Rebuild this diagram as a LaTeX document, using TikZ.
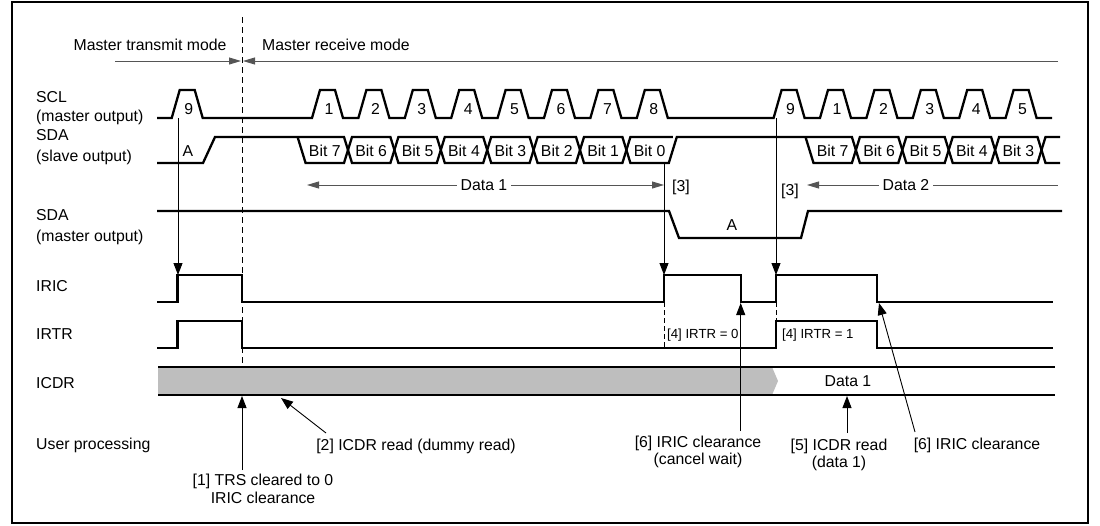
\documentclass[tikz,border=0pt]{standalone}
\usepackage{fontspec}
\setmainfont{Liberation Sans}
\usepackage{xcolor}
\usepackage{tikz}
\usetikzlibrary{arrows.meta}
\definecolor{icdrgray}{HTML}{BEBEBE}
\definecolor{dimgray}{HTML}{555555}

\begin{document}
\begin{tikzpicture}[x=1pt, y=-1pt,
    every node/.style={inner sep=0pt, font=\fontsize{15.8}{17.5}\selectfont},
    wave/.style={line width=2.3pt},
    ptr/.style={line width=0.9pt, -{Triangle[length=12pt, width=9pt]}},
    dimline/.style={line width=0.9pt, draw=dimgray},
    dimtip/.style={dimline, -{Triangle[length=12pt, width=7pt]}},
    signame/.style={anchor=west},
    small/.style={font=\fontsize{13.2}{15}\selectfont}]
    \useasboundingbox (0,0) rectangle (1100,525);
    \draw[line width=2pt] (12,2) rectangle (1088,523);

    \node (txmode) at (150,45) {Master transmit mode};
    \node[anchor=west] (rxmode) at (262,45) {Master receive mode};
    \coordinate (txstart) at (115,61);
    \coordinate (txend) at (241,61);
    \coordinate (rxstart) at (243,61);
    \coordinate (rxend) at (1058,61);
    \draw[dimtip] (txstart) -- (txend);
    \draw[dimtip] (rxend) -- (rxstart);
    \draw[line width=0.8pt, dash pattern=on 6pt off 4pt] (242,17) -- (242,395);

    \node[signame] (sclname) at (36,97) {SCL};
    \node[signame] (sclsub) at (36,117) {(master output)};
    \node[signame] (sdasname) at (36,135) {SDA};
    \node[signame] (sdassub) at (36,157) {(slave output)};
    \node[signame] (sdamname) at (36,215) {SDA};
    \node[signame] (sdamsub) at (36,237) {(master output)};
    \node[signame] (iricname) at (36,286) {IRIC};
    \node[signame] (irtrname) at (36,334) {IRTR};
    \node[signame] (icdrname) at (36,383) {ICDR};
    \node[signame] (userproc) at (36,445) {User processing};

    \draw[wave] (157,118) \foreach \r in {171.7,312,358.4,404.8,451.2,497.6,544,590.4,636.8,773.6,820,866.4,912.8,959.2,1005.6} {-- (\r,118) -- (\r+8,90) -- (\r+23,90) -- (\r+31,118)} -- (1052,118);
    \foreach \r/\t [count=\n] in {171.7/9,312/1,358.4/2,404.8/3,451.2/4,497.6/5,544/6,590.4/7,636.8/8,773.6/9,820/1,866.4/2,912.8/3,959.2/4,1005.6/5}
        \node (clk\n) at (\r+17,109) {\t};

    \draw[wave] (157,163) -- (203,163) -- (215,137) -- (297.6,137) \foreach \c/\a/\b in {348/137/163,394.4/163/137,440.8/137/163,487.2/163/137,533.6/137/163,580/163/137,626.4/137/163,672.8/163/137,855.9/137/163,902.3/163/137,948.7/137/163,995.1/163/137,1041.5/137/163} {-- (\c-4,\a) -- (\c+4,\b)} -- (1060,163);
    \draw[wave] (297.6,137) \foreach \c/\a/\b in {301.6/137/163,348/163/137,394.4/137/163,440.8/163/137,487.2/137/163,533.6/163/137,580/137/163,626.4/163/137} {-- (\c-4,\a) -- (\c+4,\b)} -- (672.8,137);
    \draw[wave] (805.5,137) \foreach \c/\a/\b in {809.5/137/163,855.9/163/137,902.3/137/163,948.7/163/137,995.1/137/163,1041.5/163/137} {-- (\c-4,\a) -- (\c+4,\b)} -- (1060,137);
    \foreach \c/\t [count=\n] in {301.6/7,348/6,394.4/5,440.8/4,487.2/3,533.6/2,580/1,626.4/0,809.5/7,855.9/6,902.3/5,948.7/4,995.1/3}
        \node (bit\n) at (\c+23.2,151) {Bit \t};
    \node (acks) at (188,151) {A};

    \coordinate (d1L) at (307,185);
    \coordinate (d1R) at (664,185);
    \coordinate (d2L) at (807,185);
    \coordinate (d2R) at (1058,185);
    \node[inner xsep=4pt] (data1) at (484,185) {Data 1};
    \node[inner xsep=4pt] (data2) at (906,185) {Data 2};
    \draw[dimtip] (data1.west) -- (d1L);
    \draw[dimtip] (data1.east) -- (d1R);
    \draw[dimtip] (data2.west) -- (d2L);
    \draw[dimline] (data2.east) -- (d2R);
    \node (tag3a) at (681,187) {[3]};
    \node (tag3b) at (790,191) {[3]};

    \draw[wave] (157,211) -- (669,211) -- (679,238) -- (801,238) -- (808,211) -- (1062,211);
    \node (ackm) at (732,225) {A};

    \draw[wave] (157,302) -- (177.5,302) -- (177.5,275) -- (242,275) -- (242,302) -- (664,302) -- (664,275) -- (740.7,275) -- (740.7,302) -- (776,302) -- (776,275) -- (877,275) -- (877,302) -- (1053,302);
    \draw[wave] (157,348) -- (177.5,348) -- (177.5,321) -- (242,321) -- (242,348) -- (776,348) -- (776,321) -- (877,321) -- (877,348) -- (1053,348);
    \draw[line width=0.8pt, dash pattern=on 5pt off 3pt] (664,302) -- (664,348);
    \draw[line width=0.8pt, dash pattern=on 5pt off 3pt] (776,302) -- (776,321);
    \node[small, anchor=west] (irtr0) at (667,335) {[4] IRTR = 0};
    \node[small, anchor=west] (irtr1) at (782,335) {[4] IRTR = 1};

    \fill[icdrgray] (158,367) -- (772,367) -- (778,381) -- (772,395) -- (158,395) -- cycle;
    \draw[wave] (158,367) -- (1055,367);
    \draw[wave] (158,395) -- (1055,395);
    \node (icdrdata) at (848,381) {Data 1};

    \coordinate (scl9a) at (178,118);
    \coordinate (iric9) at (178,275);
    \coordinate (bit0end) at (664,163);
    \coordinate (iric3a) at (664,275);
    \coordinate (scl9b) at (776,118);
    \coordinate (iric3b) at (776,275);
    \draw[ptr] (scl9a) -- (iric9);
    \draw[ptr] (bit0end) -- (iric3a);
    \draw[ptr] (scl9b) -- (iric3b);

    \node[align=center] (trsclr) at (263,489) {[1] TRS cleared to 0\\IRIC clearance};
    \node (dummyrd) at (416,446) {[2] ICDR read (dummy read)};
    \node[align=center] (cancelclr) at (698,452) {[6] IRIC clearance\\(cancel wait)};
    \node[align=center] (icdrrd) at (839,455) {[5] ICDR read\\(data 1)};
    \node (iricclr) at (977,445) {[6] IRIC clearance};

    \coordinate (trstail) at (242,470);
    \coordinate (icdrA) at (242,396);
    \coordinate (dummytail) at (326,433);
    \coordinate (icdrB) at (281,398);
    \coordinate (canceltail) at (740.7,431);
    \coordinate (iricfallA) at (740.7,303);
    \coordinate (readtail) at (847,433);
    \coordinate (icdrC) at (847,396);
    \coordinate (clrtail) at (915,432);
    \coordinate (iricfallB) at (879,303);
    \draw[ptr] (trstail) -- (icdrA);
    \draw[ptr] (dummytail) -- (icdrB);
    \draw[ptr] (canceltail) -- (iricfallA);
    \draw[ptr] (readtail) -- (icdrC);
    \draw[ptr] (clrtail) -- (iricfallB);
\end{tikzpicture}
\end{document}
